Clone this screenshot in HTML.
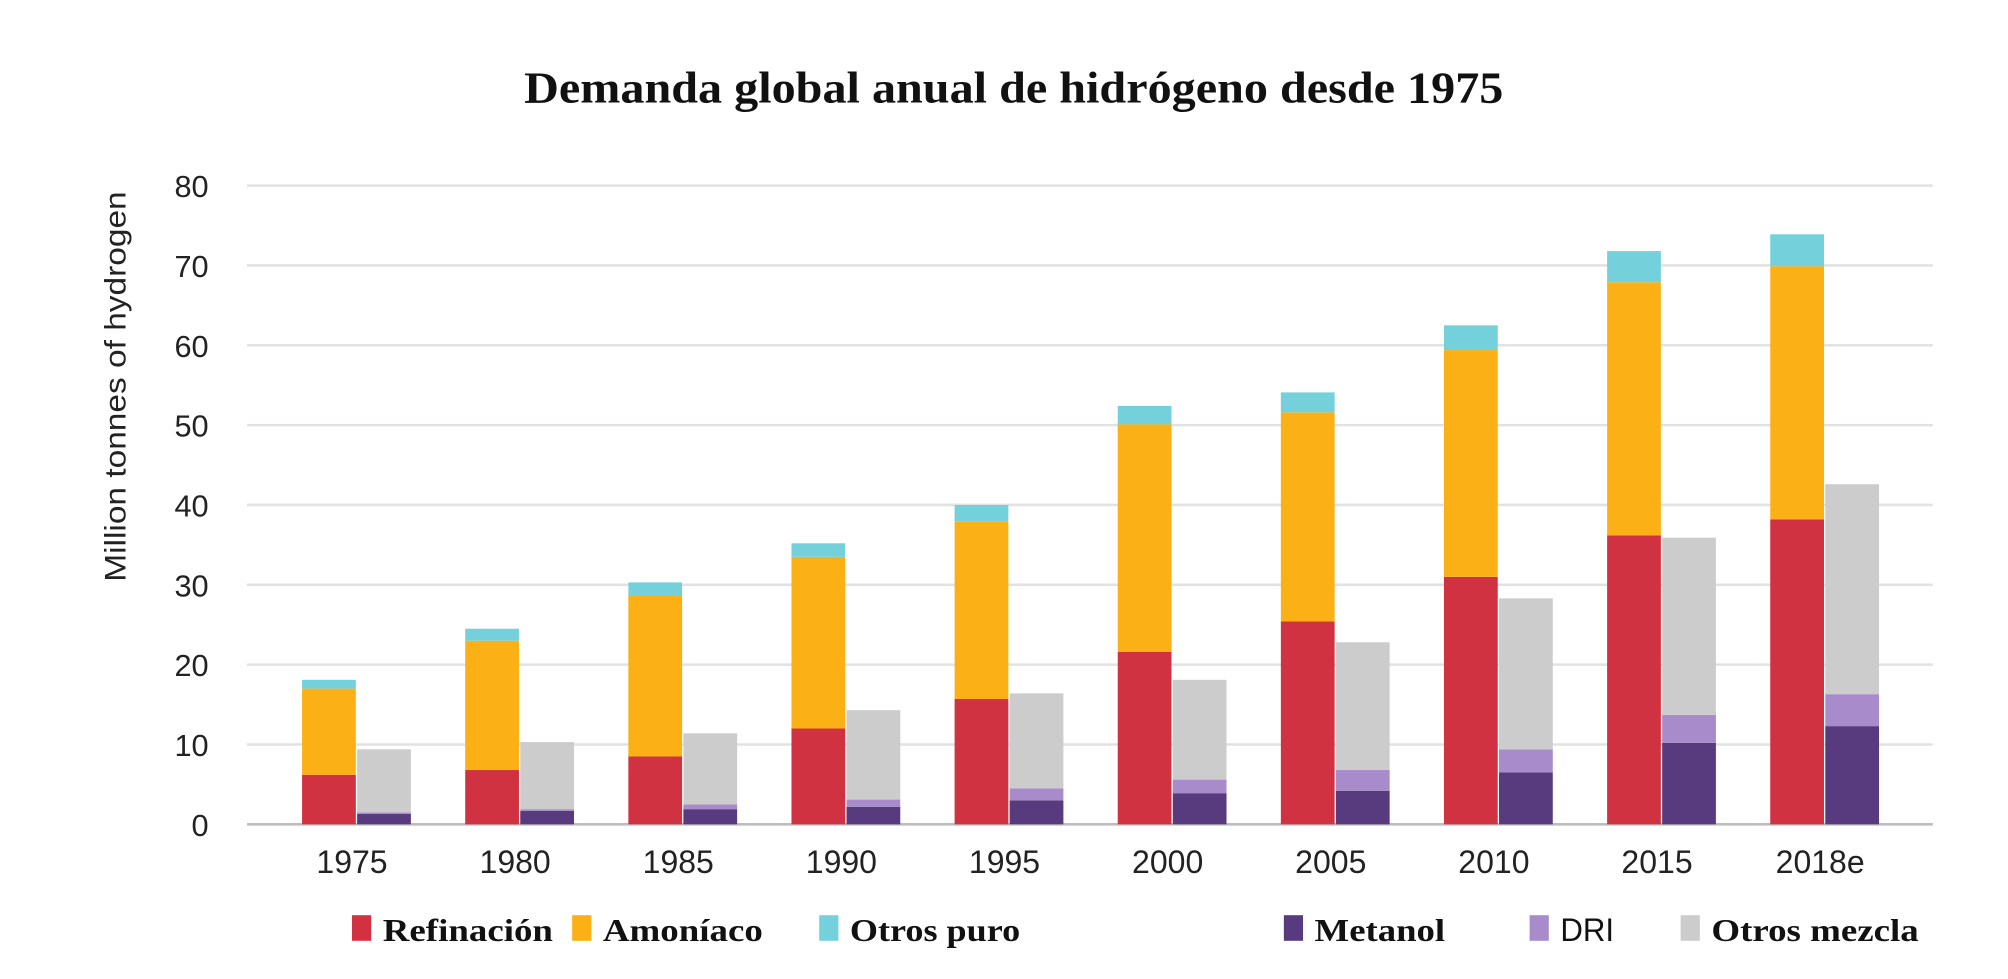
<!DOCTYPE html>
<html><head><meta charset="utf-8"><style>
html,body{margin:0;padding:0;background:#fff;}
svg{display:block;}
</style></head><body>
<svg id="chart" width="2008" height="979" viewBox="0 0 1568.75 764.84" xmlns="http://www.w3.org/2000/svg">
<text x="792" y="80" text-anchor="middle" font-family="Liberation Serif, serif" font-weight="bold" font-size="35" fill="#111" textLength="765" lengthAdjust="spacingAndGlyphs">Demanda global anual de hidrógeno desde 1975</text>
<text transform="translate(98,302) rotate(-90)" text-anchor="middle" font-family="Liberation Sans, sans-serif" font-size="23" fill="#222" textLength="305" lengthAdjust="spacingAndGlyphs">Million tonnes of hydrogen</text>
<g id="grid"></g><g id="bars"></g><g id="xlabels"></g>
<g id="legend"></g>
</svg>
<script>
const categories = ["1975","1980","1985","1990","1995","2000","2005","2010","2015","2018e"];
const refinacion = [6.2,6.8,8.5,12.0,15.7,21.6,25.4,31.0,36.2,38.2];
const amoniaco = [10.8,16.2,20.1,21.5,22.2,28.5,26.2,28.4,31.7,31.7];
const otrosPuro = [1.1,1.5,1.7,1.7,2.1,2.3,2.5,3.1,3.9,4.0];
const metanol = [1.3,1.7,1.9,2.2,3.0,3.9,4.2,6.5,10.2,12.3];
const dri = [0.2,0.2,0.6,0.9,1.5,1.7,2.6,2.9,3.5,4.0];
const otrosMezcla = [7.9,8.4,8.9,11.2,11.9,12.5,16.0,18.9,22.2,26.3];
const yTicks = [0,10,20,30,40,50,60,70,80];
const legendLabels = ["Refinación","Amoníaco","Otros puro","Metanol","DRI","Otros mezcla"];

const NS="http://www.w3.org/2000/svg";
const x0=193,x1=1510,y0=644,yTop=145,yMax=80;
const y=v=>y0-(v/yMax)*(y0-yTop);
const step=(1422-275)/9;
const cx=i=>278+i*step;
const bw=42;
function mk(tag,attrs,parent){const e=document.createElementNS(NS,tag);for(const k in attrs)e.setAttribute(k,attrs[k]);parent.appendChild(e);return e;}
const grid=document.getElementById('grid');
yTicks.forEach(t=>{
  if(t>0){const l=mk('line',{x1:x0,x2:x1,y1:y(t),y2:y(t),stroke:'#e2e2e2','stroke-width':2},grid);
  
  }
  const tx=mk('text',{x:163,y:y(t)+9,'text-anchor':'end','font-family':'Liberation Sans, sans-serif','font-size':24,fill:'#222'},grid);
  tx.textContent=t;
  
  
});
const base=mk('line',{x1:x0,x2:x1,y1:y0,y2:y0,stroke:'#bdbdbd','stroke-width':2},grid);


const colors=['#d13241','#fbb116','#74d1dc','#583b7e','#a78bcb','#cccccc'];
const left=[refinacion,amoniaco,otrosPuro], right=[metanol,dri,otrosMezcla];
const bars=document.getElementById('bars');
categories.forEach((c,i)=>{
  [[left,cx(i)-bw,0],[right,cx(i)+1,3]].forEach(([series,bx,ci])=>{
    let acc=0;
    series.forEach((s,k)=>{
      const v=s[i];
      const r=mk('rect',{x:bx,y:y(acc+v),width:bw,height:y(acc)-y(acc+v),fill:colors[ci+k]},bars);
      
      
      acc+=v;
    });
  });
  const t=mk('text',{x:cx(i)-3,y:682,'text-anchor':'middle','font-family':'Liberation Sans, sans-serif','font-size':25,fill:'#222'},document.getElementById('xlabels'));
  t.textContent=c;
  
  
});
const lg=document.getElementById('legend');
const lx=[275,447,640,1003,1195,1313];
const lw=[133,125,133,102,42,162];
legendLabels.forEach((n,k)=>{
  const s=mk('rect',{x:lx[k],y:715,width:15,height:20,fill:colors[k]},lg);
  
  
  const t=mk('text',{x:lx[k]+24,y:735,'font-family':n==='DRI'?'Liberation Sans, sans-serif':'Liberation Serif, serif','font-weight':n==='DRI'?'normal':'bold','font-size':25,fill:'#111',textLength:lw[k],lengthAdjust:'spacingAndGlyphs'},lg);
  t.textContent=n;
  
  
});
</script>
</body></html>
